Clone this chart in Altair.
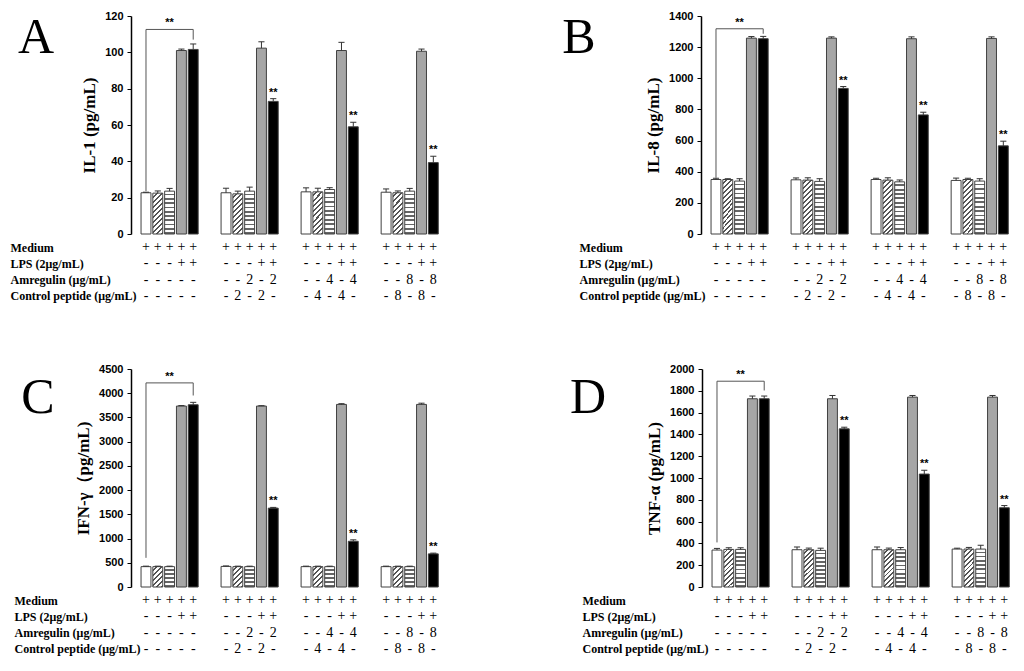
import altair as alt
import pandas as pd

# ---------------- data ----------------
group_idx = [0]*5 + [1]*5 + [2]*5 + [3]*5
bar_idx = [0, 1, 2, 3, 4] * 4

il1_mean = [22.7, 22.5, 23.6, 101.0, 101.6, 22.7, 22.1, 23.6, 102.3, 73.0,
            23.2, 23.2, 24.5, 101.0, 59.0, 23.0, 22.7, 23.6, 100.6, 39.3]
il1_err = [0.3, 1.2, 1.5, 0.8, 3.0, 2.5, 1.5, 2.2, 3.5, 1.5,
           2.2, 2.0, 1.0, 4.5, 2.5, 1.8, 1.0, 1.5, 1.2, 3.5]

il8_mean = [350, 350, 340, 1258, 1254, 348, 346, 338, 1258, 935,
            350, 346, 335, 1254, 765, 344, 350, 340, 1256, 566]
il8_err = [8, 5, 15, 10, 15, 12, 15, 17, 8, 12,
           8, 15, 12, 12, 17, 15, 8, 15, 10, 30]

ifn_mean = [420, 420, 420, 3735, 3762, 425, 420, 420, 3735, 1628,
            420, 420, 420, 3769, 944, 420, 420, 420, 3769, 684]
ifn_err = [10, 10, 10, 10, 50, 10, 10, 10, 8, 15,
           10, 10, 10, 15, 30, 10, 10, 10, 25, 15]

tnf_mean = [339, 345, 345, 1727, 1727, 342, 342, 336, 1727, 1451,
            342, 342, 342, 1742, 1036, 348, 348, 348, 1742, 727]
tnf_err = [15, 15, 15, 25, 25, 25, 15, 20, 30, 15,
           25, 15, 20, 15, 35, 8, 15, 35, 15, 20]

# significance star on LPS + Amregulin bars
star_flag = [0]*5 + [0, 0, 0, 0, 1] * 3

# bracket (left foot, top, right foot) in data units
bracket_a = [23.6, 112.6, 107.0]
bracket_b = [361, 1318, 1286]
bracket_c = [602, 4213, 3953]
bracket_d = [409, 1888, 1803]

row_labels = ["Medium", "LPS (2μg/mL)", "Amregulin (μg/mL)", "Control peptide (μg/mL)"]
medium_row = ["+"] * 20
lps_row = ["-", "-", "-", "+", "+"] * 4
amreg_row = ["-"]*5 + ["-", "-", "2", "-", "2"] + ["-", "-", "4", "-", "4"] + ["-", "-", "8", "-", "8"]
ctrl_row = ["-"]*5 + ["-", "2", "-", "2", "-"] + ["-", "4", "-", "4", "-"] + ["-", "8", "-", "8", "-"]

# ---------------- styles ----------------
SERIF = "Liberation Serif"
SANS = "Liberation Sans"
POS_EXPR = "datum.g*6.78+datum.b"
XSCALE = alt.Scale(domain=[-1.27, 25.16], nice=False, zero=False)
PW, PH = 312, 218


def stripe_grad(n, dark, x2, y2, frac=0.42):
    stops = []
    for i in range(n):
        s = i / n
        m = (i + 1 - frac) / n
        e = (i + 1) / n
        stops += [("white", s), ("white", m), (dark, m), (dark, e)]
    return alt.Gradient(gradient="linear",
                        stops=[alt.GradientStop(color=c, offset=min(o, 1.0)) for c, o in stops],
                        x1=0, y1=0, x2=x2, y2=y2)


def hatch_grad(h, n, w=10.0):
    s = (w + h) / (w * w + h * h)
    return stripe_grad(n, "#555555", w * s, h * s, frac=0.4)


def panel(mean, err, ytitle, ymax, ystep, bracket, letter, letter_xy,
          bar_h, hatch_n, stripe_n, label_pad):
    df = pd.DataFrame({"g": group_idx, "b": bar_idx, "mean": mean, "err": err, "star": star_flag})
    yscale = alt.Scale(domain=[0, ymax], nice=False, zero=True)
    yaxis = alt.Axis(values=list(range(0, ymax + 1, ystep)), format="d", grid=False,
                     domainColor="black", domainWidth=1.5, tickColor="black", tickSize=4,
                     labelFont=SANS, labelFontWeight="bold", labelFontSize=11, labelColor="black",
                     labelPadding=4, titleFont=SERIF, titleFontSize=17, titleFontWeight="bold",
                     titleColor="black", titlePadding=6)

    def Y(f):
        return alt.Y(f, scale=yscale, axis=yaxis, title=ytitle)

    base = alt.Chart(df).transform_calculate(
        pos=POS_EXPR,
    ).transform_calculate(
        xl="datum.pos-0.42", xr="datum.pos+0.42",
        cl="datum.pos-0.26", cr="datum.pos+0.26",
        upper="datum.mean+datum.err",
    )
    fills = ["white", hatch_grad(bar_h, hatch_n),
             stripe_grad(stripe_n, "#666666", 0, 1, frac=0.4), "#a6a6a6", "black"]
    layers = []
    for k, f in enumerate(fills):
        layers.append(base.transform_filter(f"datum.b=={k}").mark_bar(
            fill=f, stroke="#404040", strokeWidth=1).encode(
            x=alt.X("xl:Q", scale=XSCALE, axis=None), x2="xr:Q",
            y=Y("mean:Q"), y2=alt.datum(0)))
    layers.append(base.mark_rule(color="#333333", strokeWidth=1).encode(
        x=alt.X("pos:Q", scale=XSCALE, axis=None), y=Y("mean:Q"), y2="upper:Q"))
    layers.append(base.mark_rule(color="#333333", strokeWidth=1).encode(
        x=alt.X("cl:Q", scale=XSCALE, axis=None), x2="cr:Q", y=Y("upper:Q")))
    layers.append(base.transform_filter("datum.star==1").mark_text(
        text="**", fontSize=11, fontWeight="bold", font=SANS, baseline="bottom", dy=-1,
        color="black").encode(x=alt.X("pos:Q", scale=XSCALE, axis=None), y=Y("upper:Q")))

    bdf = pd.DataFrame({"bb": [0, 0, 4, 4], "yv": [bracket[0], bracket[1], bracket[1], bracket[2]],
                        "k": [0, 1, 2, 3]})
    layers.append(alt.Chart(bdf).mark_line(color="#555555", strokeWidth=1).encode(
        x=alt.X("bb:Q", scale=XSCALE, axis=None), y=Y("yv:Q"), order="k:Q"))
    sdf = pd.DataFrame({"bb": [2], "yv": [bracket[1]]})
    layers.append(alt.Chart(sdf).mark_text(
        text="**", fontSize=11, fontWeight="bold", font=SANS, baseline="bottom", dy=-1,
        color="black").encode(x=alt.X("bb:Q", scale=XSCALE, axis=None), y=Y("yv:Q")))

    ldf = pd.DataFrame({"t": [letter]})
    layers.append(alt.Chart(ldf).mark_text(
        font=SERIF, fontSize=50, align="center", baseline="top", color="black").encode(
        text="t:N", x=alt.value(letter_xy[0]), y=alt.value(letter_xy[1])))

    bars = alt.layer(*layers).properties(width=PW, height=PH)

    tdf = pd.DataFrame({
        "g": group_idx * 4, "b": bar_idx * 4,
        "row": [row_labels[0]]*20 + [row_labels[1]]*20 + [row_labels[2]]*20 + [row_labels[3]]*20,
        "sym": medium_row + lps_row + amreg_row + ctrl_row,
    })
    table = alt.Chart(tdf).transform_calculate(pos=POS_EXPR).mark_text(
        font=SERIF, fontSize=14, color="black").encode(
        x=alt.X("pos:Q", scale=XSCALE, axis=None),
        y=alt.Y("row:N", sort=row_labels, title=None, scale=alt.Scale(padding=0.19),
                axis=alt.Axis(labelAlign="left", labelPadding=label_pad, ticks=False, tickSize=0,
                              domain=False, labelFont=SERIF, labelFontWeight="bold",
                              labelFontSize=12, labelColor="black", labelLimit=300)),
        text="sym:N",
    ).properties(width=PW, height=55)

    return alt.vconcat(bars, table, spacing=1)


pa = panel(il1_mean, il1_err, "IL-1 (pg/mL)", 120, 20, bracket_a, "A", (-95, -3), 41, 10, 10, 121)
pb = panel(il8_mean, il8_err, "IL-8 (pg/mL)", 1400, 200, bracket_b, "B", (-122, -3), 54, 13, 12, 122)
pc = panel(ifn_mean, ifn_err, "IFN-γ（pg/mL)", 4500, 500, bracket_c, "C", (-93, 4), 20, 6, 5, 117)
pd_ = panel(tnf_mean, tnf_err, "TNF-α (pg/mL)", 2000, 200, bracket_d, "D", (-114, 4), 38, 10, 9, 120)

chart = alt.vconcat(
    alt.hconcat(pa, pb, spacing=119),
    alt.hconcat(pc, pd_, spacing=126),
    spacing=60,
).properties(
    padding={"left": 2, "top": 2, "right": 0, "bottom": 0}
).configure_view(stroke=None)

chart.save("out.html", embed_options={"renderer": "svg", "actions": False})
